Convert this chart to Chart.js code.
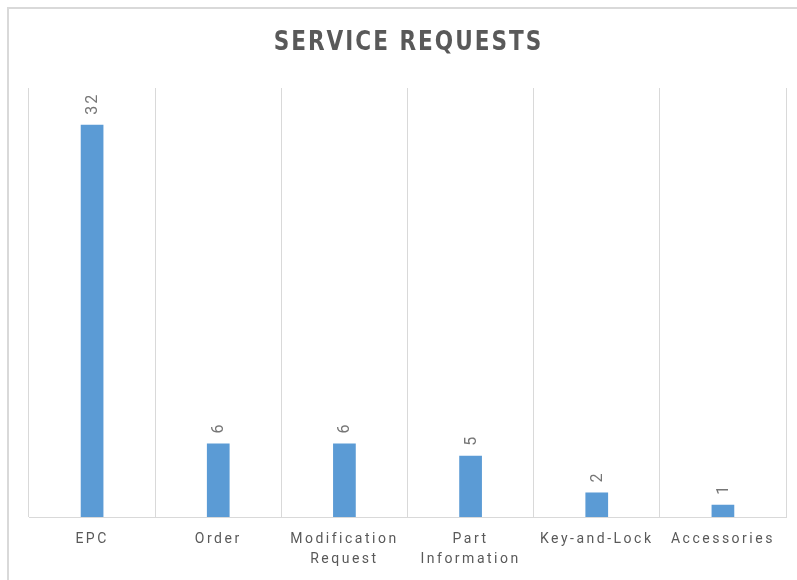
<!DOCTYPE html>
<html>
<head>
<meta charset="utf-8">
<script src="https://cdn.jsdelivr.net/npm/chart.js@4/dist/chart.umd.min.js"></script>
<style>
  html, body { margin: 0; padding: 0; background: #fff; }
  #wrap { width: 797px; height: 580px; }
</style>
</head>
<body>
<div id="wrap"><canvas id="chartServicios" width="797" height="580"></canvas></div>
<script>
// ── Datos ──
const categorias = ['EPC', 'Order', ['Modification', 'Request'], ['Part', 'Information'], 'Key-and-Lock', 'Accessories'];
const solicitudes = [32, 6, 6, 5, 2, 1];
const tituloGrafica = 'SERVICE REQUESTS';

const GRIS_TEXTO = '#595959';
const GRIS_LINEA = '#d9d9d9';
const AZUL_BARRA = '#5b9bd5';

// ── Plugin: marco exterior + espaciado de letras del eje ──
const marcoPlugin = {
    id: 'marco',
    beforeDraw(chart) {
        const ctx = chart.ctx;
        ctx.save();
        ctx.fillStyle = GRIS_LINEA;
        ctx.fillRect(7, 7, 2, chart.height);
        ctx.fillRect(7, 7, chart.width, 2);
        ctx.restore();
        ctx.letterSpacing = '2.5px';
    }
};

// ── Plugin: título condensado (no hay fuente condensada instalada, se escala en X) ──
const tituloPlugin = {
    id: 'tituloCondensado',
    afterDraw(chart) {
        const ctx = chart.ctx;
        const a = chart.chartArea;
        ctx.save();
        ctx.translate((a.left + a.right) / 2 + 1, 43);
        ctx.scale(0.8, 1);
        ctx.font = 'bold 27px "DejaVu Sans", Roboto, sans-serif';
        ctx.letterSpacing = '2.5px';
        ctx.fillStyle = GRIS_TEXTO;
        ctx.textAlign = 'center';
        ctx.textBaseline = 'middle';
        ctx.fillText(tituloGrafica, 0, 0);
        ctx.restore();
    }
};

// ── Plugin: etiquetas de valor giradas sobre cada barra ──
const etiquetasPlugin = {
    id: 'etiquetasValor',
    afterDatasetsDraw(chart) {
        const ctx = chart.ctx;
        const meta = chart.getDatasetMeta(0);
        ctx.save();
        ctx.letterSpacing = '2px';
        ctx.fillStyle = '#767676';
        ctx.font = '16px Roboto, "Noto Sans", sans-serif';
        ctx.textAlign = 'left';
        ctx.textBaseline = 'middle';
        meta.data.forEach((bar, i) => {
            ctx.save();
            ctx.translate(bar.x + 1, bar.y - 10);
            ctx.rotate(-Math.PI / 2);
            ctx.fillText(String(solicitudes[i]), 0, 0);
            ctx.restore();
        });
        ctx.restore();
    }
};

new Chart(document.getElementById('chartServicios'), {
    type: 'bar',
    data: {
        labels: categorias,
        datasets: [{
            label: 'Service Requests',
            data: solicitudes,
            backgroundColor: AZUL_BARRA,
            borderWidth: 0,
            categoryPercentage: 1,
            barPercentage: 0.18
        }]
    },
    plugins: [marcoPlugin, etiquetasPlugin, tituloPlugin],
    options: {
        responsive: false,
        animation: false,
        layout: { padding: { left: 29, right: 11, top: 88, bottom: 0 } },
        plugins: {
            legend: { display: false },
            tooltip: { enabled: false },
            title: { display: false }
        },
        scales: {
            x: {
                grid: { color: GRIS_LINEA, lineWidth: 1, drawTicks: false, offset: true },
                border: { color: GRIS_LINEA, width: 1 },
                ticks: {
                    color: GRIS_TEXTO,
                    font: { family: 'Roboto, "Noto Sans", sans-serif', size: 14, lineHeight: 1.43 },
                    padding: 12,
                    maxRotation: 0,
                    autoSkip: false
                },
                afterFit: s => { s.height = 63; }
            },
            y: {
                display: false,
                min: 0,
                max: 35
            }
        }
    }
});
</script>
</body>
</html>
